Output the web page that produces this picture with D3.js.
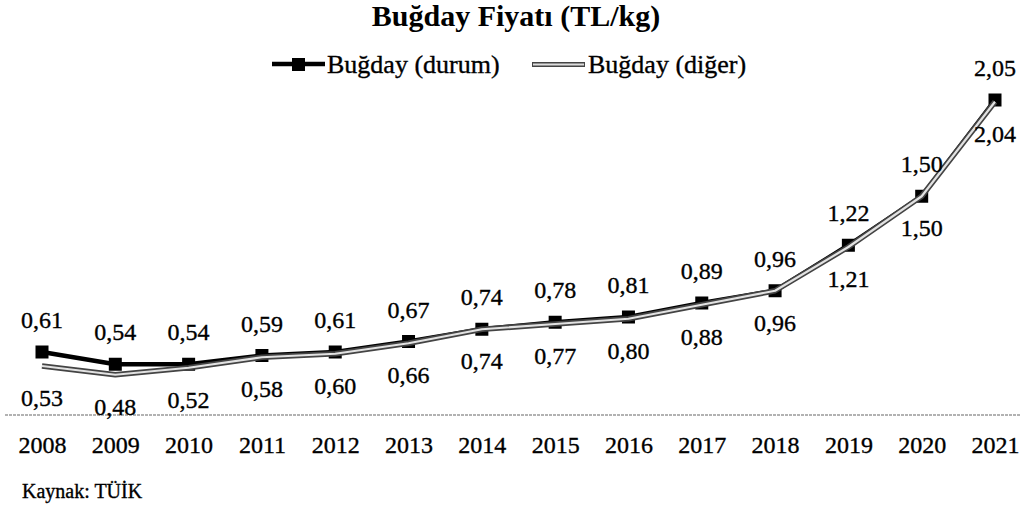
<!DOCTYPE html>
<html>
<head>
<meta charset="utf-8">
<script src="https://cdn.jsdelivr.net/npm/d3@7/dist/d3.min.js"></script>
<style>
  html, body { margin: 0; padding: 0; background: #fff; }
  svg { display: block; font-family: "Liberation Serif", "Times New Roman", serif; }
  .t { stroke: #000; stroke-width: 0.35px; fill: #000; }
</style>
</head>
<body>
<svg id="chart" width="1024" height="507"></svg>
<script>
// Buğday fiyatları (TL/kg), TÜİK
const years = ["2008","2009","2010","2011","2012","2013","2014","2015","2016","2017","2018","2019","2020","2021"];
const durum = [0.61,0.54,0.54,0.59,0.61,0.67,0.74,0.78,0.81,0.89,0.96,1.22,1.50,2.05];
const diger = [0.53,0.48,0.52,0.58,0.60,0.66,0.74,0.77,0.80,0.88,0.96,1.21,1.50,2.04];
const seriesNames = ["Buğday (durum)", "Buğday (diğer)"];
const titleText = "Buğday Fiyatı (TL/kg)";
const sourceText = "Kaynak: TÜİK";

const svg = d3.select("#chart");
const fmt = v => d3.format(".2f")(v).replace(".", ",");

const x = d3.scalePoint().domain(years).range([42, 995]);
const y = d3.scaleLinear().domain([0.25, 2.05]).range([415, 100]);

// title
svg.append("text")
  .attr("x", 516).attr("y", 26)
  .attr("text-anchor", "middle")
  .attr("font-size", 30).attr("font-weight", "bold")
  .text(titleText);

// legend
const lg = svg.append("g");
lg.append("line").attr("x1", 272).attr("x2", 325).attr("y1", 64).attr("y2", 64)
  .attr("stroke", "#000").attr("stroke-width", 4.5);
lg.append("rect").attr("x", 292).attr("y", 58).attr("width", 13).attr("height", 13).attr("fill", "#000");
lg.append("text").attr("class", "t").attr("x", 327).attr("y", 73).attr("font-size", 26).text(seriesNames[0]);
lg.append("line").attr("x1", 532).attr("x2", 585).attr("y1", 64.5).attr("y2", 64.5)
  .attr("stroke", "#444").attr("stroke-width", 5);
lg.append("line").attr("x1", 533).attr("x2", 584).attr("y1", 64.5).attr("y2", 64.5)
  .attr("stroke", "#ddd").attr("stroke-width", 2);
lg.append("text").attr("class", "t").attr("x", 588).attr("y", 73).attr("font-size", 26).text(seriesNames[1]);

// baseline (x axis)
const xAxis = d3.axisBottom(x).tickSize(0);
const axisG = svg.append("g").attr("transform", "translate(0,415)").call(xAxis);
axisG.select(".domain").remove();
axisG.append("line").attr("x1", 5).attr("x2", 1020).attr("y1", 0).attr("y2", 0)
  .attr("stroke", "#666").attr("stroke-width", 1.2).attr("stroke-dasharray", "3,1");
axisG.selectAll(".tick text")
  .attr("class", "t")
  .attr("y", 38).attr("dy", null)
  .attr("font-family", "Liberation Serif, Times New Roman, serif")
  .attr("font-size", 24);

const line = d3.line().x((d, i) => x(years[i])).y(d => y(d));

// durum series
svg.append("path").datum(durum).attr("d", line)
  .attr("fill", "none").attr("stroke", "#000").attr("stroke-width", 4.5)
  .attr("stroke-linejoin", "round");
svg.selectAll(".mk").data(durum).enter().append("rect")
  .attr("x", (d, i) => x(years[i]) - 6.5).attr("y", d => y(d) - 6.5)
  .attr("width", 13).attr("height", 13).attr("fill", "#000");

// diğer series: double line
svg.append("path").datum(diger).attr("d", line)
  .attr("fill", "none").attr("stroke", "#444").attr("stroke-width", 5.5)
  .attr("stroke-linejoin", "round");
svg.append("path").datum(diger).attr("d", line)
  .attr("fill", "none").attr("stroke", "#e2e2e2").attr("stroke-width", 2.2)
  .attr("stroke-linejoin", "round");

// value labels
svg.selectAll(".lbA").data(durum).enter().append("text")
  .attr("class", "t")
  .attr("x", (d, i) => x(years[i])).attr("y", d => y(d) - 24)
  .attr("text-anchor", "middle").attr("font-size", 24).text(d => fmt(d));
svg.selectAll(".lbB").data(diger).enter().append("text")
  .attr("class", "t")
  .attr("x", (d, i) => x(years[i])).attr("y", d => y(d) + 40)
  .attr("text-anchor", "middle").attr("font-size", 24).text(d => fmt(d));

// source
svg.append("text").attr("class", "t").attr("x", 22).attr("y", 498).attr("font-size", 20).text(sourceText);
</script>
</body>
</html>
